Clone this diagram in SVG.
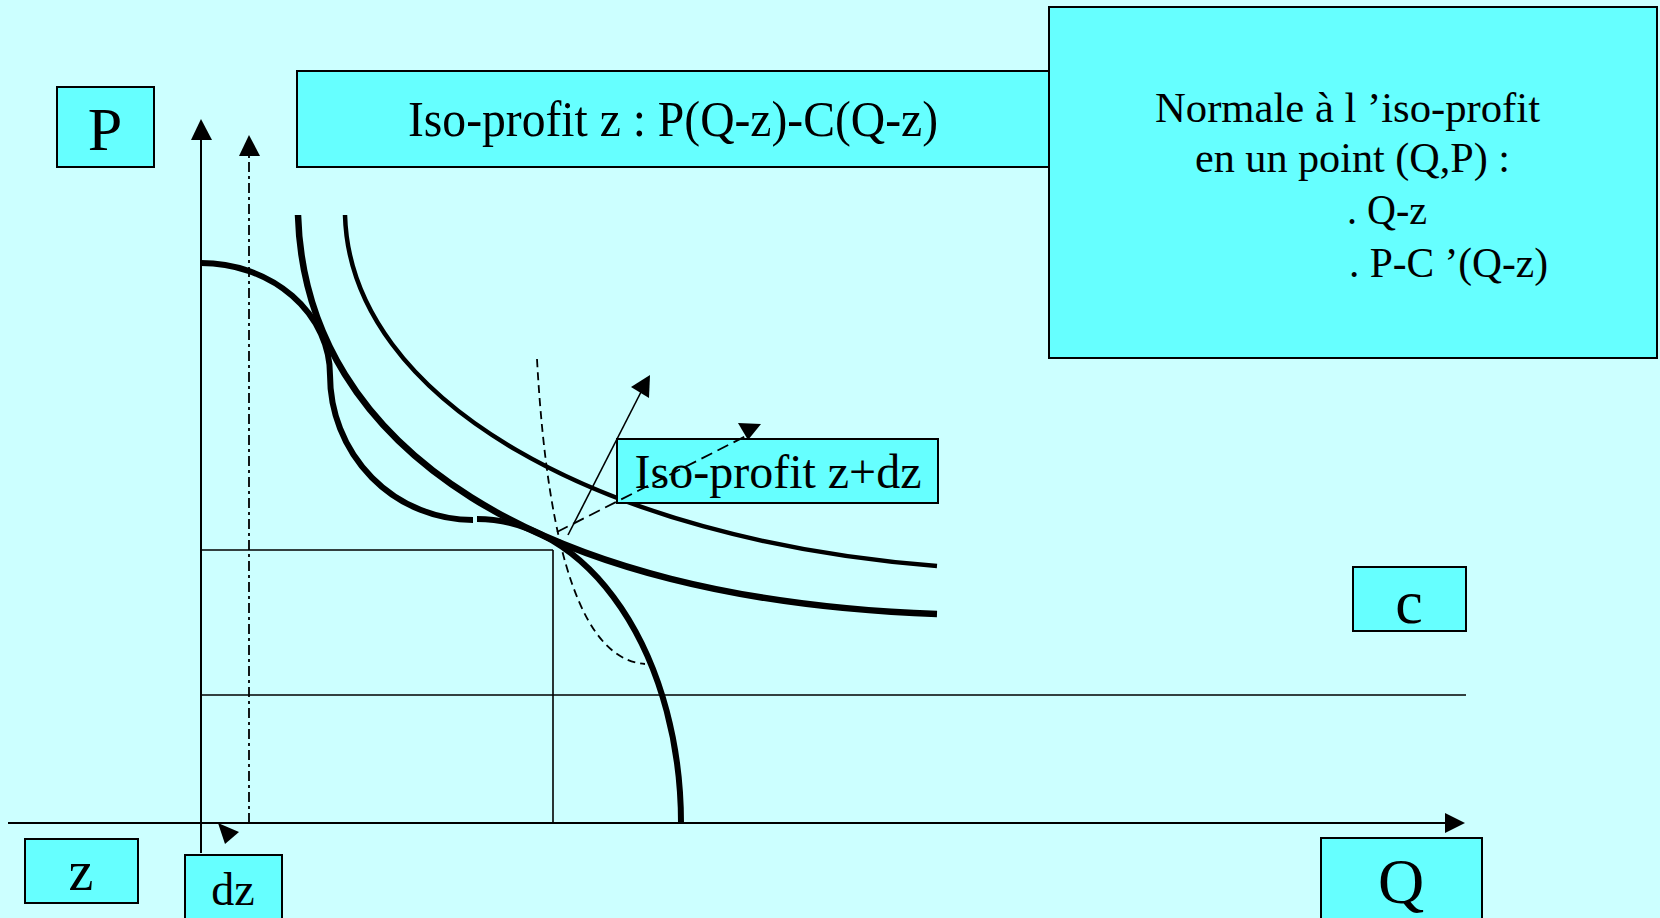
<svg xmlns="http://www.w3.org/2000/svg" width="1660" height="918" viewBox="0 0 1660 918">
  <defs>
    <style>
      .box { fill: #66FFFF; stroke: #000; stroke-width: 2; }
      .t { font-family: "Liberation Serif", "Times New Roman", serif; fill: #000; }
      .ax { stroke: #000; stroke-width: 2; fill: none; }
      .thin { stroke: #000; stroke-width: 1.6; fill: none; }
      .head { fill: #000; stroke: none; }
    </style>
  </defs>
  <rect x="0" y="0" width="1660" height="918" fill="#CCFFFF"/>

  <g id="guides">
    <line class="thin" x1="201" y1="550" x2="553" y2="550"/>
    <line class="thin" x1="553" y1="550" x2="553" y2="823"/>
    <line class="thin" x1="201" y1="695" x2="1466" y2="695"/>
  </g>

  <g id="curves">
    <path d="M201,263 A129,112 0 0 1 330,375 A143,145 0 0 0 473,520" fill="none" stroke="#000" stroke-width="6"/>
    <path d="M477,519 A204,304 0 0 1 681,823" fill="none" stroke="#000" stroke-width="6"/>
    <path d="M298,215 C305,450 540,600 937,614" fill="none" stroke="#000" stroke-width="6.5"/>
    <path d="M345,215 C350,400 600,540 937,566" fill="none" stroke="#000" stroke-width="4.5"/>
    <path d="M537,359 C548,560 585,660 645,664" fill="none" stroke="#000" stroke-width="1.8" stroke-dasharray="8 5"/>
  </g>

  <g id="connectors">
    <line class="ax" x1="201" y1="853" x2="201" y2="138"/>
    <polygon class="head" points="201,119 191,140 212,140"/>
    <line class="ax" x1="8" y1="823" x2="1447" y2="823"/>
    <polygon class="head" points="1465,823 1445,813 1445,833"/>
    <line x1="249" y1="823" x2="249" y2="154" stroke="#000" stroke-width="1.8" stroke-dasharray="10 4 3 4"/>
    <polygon class="head" points="249,135 239,156 260,156"/>
    <line class="thin" x1="568" y1="535" x2="641" y2="392"/>
    <polygon class="head" points="650,375 631,387 649,398"/>
    <line class="thin" x1="230" y1="836" x2="222" y2="828"/>
    <polygon class="head" points="218,823 239,832 225,844"/>
  </g>

  <g id="node-isoz">
    <rect class="box" x="297" y="71" width="760" height="96"/>
    <text class="t" x="408" y="136" font-size="50" textLength="530" lengthAdjust="spacingAndGlyphs">Iso-profit z : P(Q-z)-C(Q-z)</text>
  </g>

  <g id="node-normale">
    <rect class="box" x="1049" y="7" width="608" height="351"/>
    <text class="t" x="1155" y="122" font-size="42" textLength="385" lengthAdjust="spacingAndGlyphs">Normale à l ’iso-profit</text>
    <text class="t" x="1195" y="172" font-size="42" textLength="315" lengthAdjust="spacingAndGlyphs">en un point (Q,P) :</text>
    <text class="t" x="1347" y="224" font-size="42" textLength="80" lengthAdjust="spacingAndGlyphs">. Q-z</text>
    <text class="t" x="1349" y="277" font-size="42" textLength="199" lengthAdjust="spacingAndGlyphs">. P-C ’(Q-z)</text>
  </g>

  <g id="node-isozdz">
    <rect class="box" x="617" y="439" width="321" height="64"/>
    <text class="t" x="778" y="488" font-size="48" text-anchor="middle">Iso-profit z+dz</text>
  </g>

  <g id="connector-dashed">
    <line x1="557" y1="532" x2="746" y2="436" stroke="#000" stroke-width="1.8" stroke-dasharray="12 6"/>
    <polygon class="head" points="738,423 761,424 748,440"/>
  </g>

  <g id="node-P">
    <rect class="box" x="57" y="87" width="97" height="80"/>
    <text class="t" x="105" y="150" font-size="62" text-anchor="middle">P</text>
  </g>

  <g id="node-c">
    <rect class="box" x="1353" y="567" width="113" height="64"/>
    <text class="t" x="1409" y="623" font-size="62" text-anchor="middle">c</text>
  </g>

  <g id="node-Q">
    <rect class="box" x="1321" y="838" width="161" height="90"/>
    <text class="t" x="1401" y="903" font-size="64" text-anchor="middle">Q</text>
  </g>

  <g id="node-z">
    <rect class="box" x="25" y="839" width="113" height="64"/>
    <text class="t" x="81" y="890" font-size="56" text-anchor="middle">z</text>
  </g>

  <g id="node-dz">
    <rect class="box" x="185" y="855" width="97" height="73"/>
    <text class="t" x="233" y="905" font-size="46" text-anchor="middle">dz</text>
  </g>
</svg>
